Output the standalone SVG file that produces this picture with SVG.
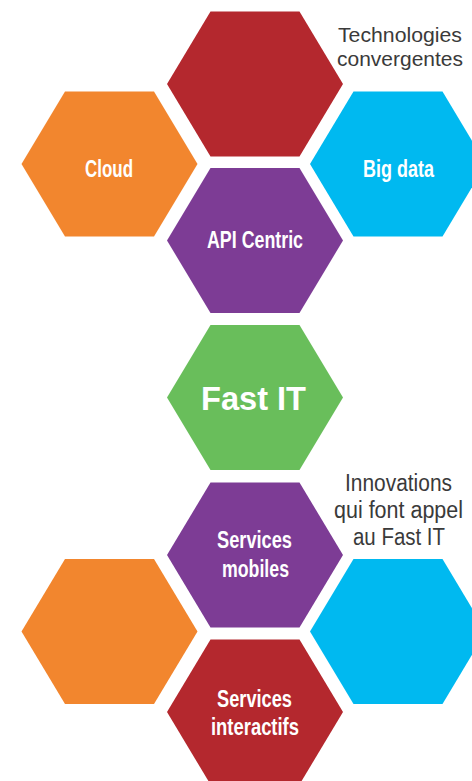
<svg xmlns="http://www.w3.org/2000/svg" xmlns:xlink="http://www.w3.org/1999/xlink" width="472" height="781" viewBox="0 0 472 781">
  <style>
    .red { fill: #B4282E; }
    .orange { fill: #F2862E; }
    .blue { fill: #00B9F0; }
    .purple { fill: #7D3C95; }
    .green { fill: #69BE5B; }
    .lbl { font-family: "Liberation Sans Narrow", "Liberation Sans", Arial, sans-serif; font-weight: bold; font-size: 23px; fill: #FFFFFF; text-anchor: middle; }
    .big { font-family: "Liberation Sans", Arial, sans-serif; font-weight: bold; font-size: 33px; fill: #FFFFFF; text-anchor: middle; }
    .note { font-family: "Liberation Sans", Arial, sans-serif; font-weight: normal; font-size: 23px; fill: #3A3A3A; text-anchor: middle; }
    .note2 { font-family: "Liberation Sans", Arial, sans-serif; font-weight: normal; font-size: 21px; fill: #3A3A3A; text-anchor: middle; }
  </style>
  <defs>
    <polygon id="hex" points="-88,0 -44.5,-72.5 44.5,-72.5 88,0 44.5,72.5 -44.5,72.5"/>
  </defs>
  <rect width="472" height="781" fill="#FFFFFF"/>
  <g id="connectors"></g>

  <g id="tech-converge">
    <use xlink:href="#hex" href="#hex" class="red" transform="translate(255,84)"/>
  </g>
  <g id="cloud">
    <use xlink:href="#hex" href="#hex" class="orange" transform="translate(109.5,164)"/>
    <text class="lbl" x="109" y="177" textLength="48" lengthAdjust="spacingAndGlyphs">Cloud</text>
  </g>
  <g id="big-data">
    <use xlink:href="#hex" href="#hex" class="blue" transform="translate(398,164)"/>
    <text class="lbl" x="398.5" y="177" textLength="71" lengthAdjust="spacingAndGlyphs">Big data</text>
  </g>
  <g id="api-centric">
    <use xlink:href="#hex" href="#hex" class="purple" transform="translate(255,240.5)"/>
    <text class="lbl" x="255" y="248" textLength="96" lengthAdjust="spacingAndGlyphs">API Centric</text>
  </g>
  <g id="fast-it">
    <use xlink:href="#hex" href="#hex" class="green" transform="translate(255,397.5)"/>
    <text class="big" x="253.5" y="410" textLength="105" lengthAdjust="spacingAndGlyphs">Fast IT</text>
  </g>
  <g id="services-mobiles">
    <use xlink:href="#hex" href="#hex" class="purple" transform="translate(255,555)"/>
    <text class="lbl" x="254.5" y="548" textLength="75" lengthAdjust="spacingAndGlyphs">Services</text>
    <text class="lbl" x="255.5" y="577" textLength="67" lengthAdjust="spacingAndGlyphs">mobiles</text>
  </g>
  <g id="orange-bottom">
    <use xlink:href="#hex" href="#hex" class="orange" transform="translate(109.5,631.5)"/>
  </g>
  <g id="blue-bottom">
    <use xlink:href="#hex" href="#hex" class="blue" transform="translate(398,631.5)"/>
  </g>
  <g id="services-interactifs">
    <use xlink:href="#hex" href="#hex" class="red" transform="translate(255,712)"/>
    <text class="lbl" x="254.5" y="706.5" textLength="75" lengthAdjust="spacingAndGlyphs">Services</text>
    <text class="lbl" x="255" y="734.5" textLength="88" lengthAdjust="spacingAndGlyphs">interactifs</text>
  </g>

  <g id="label-technologies">
    <text class="note2" x="400" y="42" textLength="124" lengthAdjust="spacingAndGlyphs">Technologies</text>
    <text class="note2" x="400" y="66" textLength="126" lengthAdjust="spacingAndGlyphs">convergentes</text>
  </g>
  <g id="label-innovations">
    <text class="note" x="398.5" y="491" textLength="107" lengthAdjust="spacingAndGlyphs">Innovations</text>
    <text class="note" x="398.5" y="518" textLength="129" lengthAdjust="spacingAndGlyphs">qui font appel</text>
    <text class="note" x="399" y="545" textLength="92" lengthAdjust="spacingAndGlyphs">au Fast IT</text>
  </g>
</svg>
